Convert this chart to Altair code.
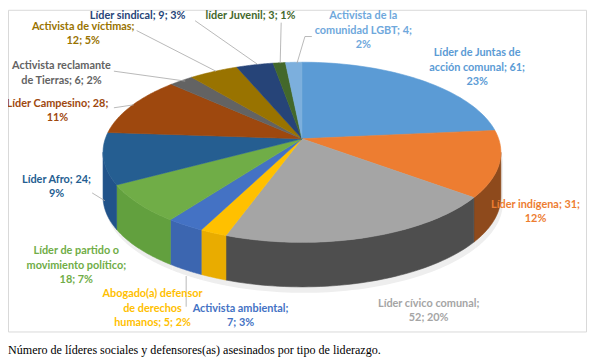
import math
import altair as alt
import pandas as pd

# ---------------- data ----------------
categories = [
    "Líder de Juntas de acción comunal", "Líder indígena", "Líder cívico comunal",
    "Abogado(a) defensor de derechos humanos", "Activista ambiental",
    "Líder de partido o movimiento político", "Líder Afro", "Líder Campesino",
    "Activista reclamante de Tierras", "Activista de víctimas", "Líder sindical",
    "líder Juvenil", "Activista de la comunidad LGBT",
]
values = [61, 31, 52, 5, 7, 18, 24, 28, 6, 12, 9, 3, 4]
percents = [23, 12, 20, 2, 3, 7, 9, 11, 2, 5, 3, 1, 2]

# label text broken into lines as in the original
label_lines = [
    ["Líder de Juntas de", "acción comunal; 61;", "23%"],
    ["Líder indígena; 31;", "12%"],
    ["Líder cívico comunal;", "52; 20%"],
    ["Abogado(a) defensor", "de derechos", "humanos; 5; 2%"],
    ["Activista ambiental;", "7; 3%"],
    ["Líder de partido o", "movimiento político;", "18; 7%"],
    ["Líder Afro; 24;", "9%"],
    ["Líder Campesino; 28;", "11%"],
    ["Activista reclamante", "de Tierras; 6; 2%"],
    ["Activista de víctimas;", "12; 5%"],
    ["Líder sindical; 9; 3%"],
    ["líder Juvenil; 3; 1%"],
    ["Activista de la", "comunidad LGBT; 4;", "2%"],
]
caption = "Número de líderes sociales y defensores(as) asesinados por tipo de liderazgo."

# ---------------- styles / layout ----------------
colors = ["#5B9BD5", "#ED7D31", "#A5A5A5", "#FFC000", "#4472C4", "#70AD47",
          "#255E91", "#9E480E", "#636363", "#997300", "#264478", "#43682B", "#7CAFDD"]
side_colors = ["#3F73A3", "#8E4A1C", "#4E4E4E", "#E9AC00", "#3C66B0", "#62A03E",
               "#21538A", "#7A380B", "#4D4D4D", "#7A5C00", "#1F3862", "#365522", "#6699C6"]
text_colors = ["#5B9BD5", "#ED7D31", "#A5A5A5", "#FFC000", "#4472C4", "#70AD47",
               "#255E91", "#9E480E", "#636363", "#997300", "#264478", "#43682B", "#6FA8DC"]
label_pos = [(482, 52), (541, 205), (433, 305), (154, 295.5), (243, 310), (77, 252),
             (57, 180), (58, 103), (62, 65), (84, 25), (139, 14.5), (253, 14.5), (367, 14.5)]
LINE_H = 14.5
leaders = [  # (x, y, x2, y2) page px
    (197, 19, 260, 63), (284, 21, 283, 62), (315, 35, 308, 35), (308, 35, 300, 62),
    (138, 29, 218, 70), (115, 70, 187, 80), (115, 107, 135, 104), (93, 193, 106, 201),
    (188, 277, 188, 308),
]

W, H = 586, 352
CX, CY0 = 305.0, 138.3          # projected pie centre
A, B, K = 198.7, 88.95, 0.15    # perspective ellipse params
DEPTH = 45.0
SHADOW = 6.0
N = 48
PHIW = math.acos(-K)

xs = alt.Scale(domain=[8, 8 + W], nice=False, zero=False)
ys = alt.Scale(domain=[8, 8 + H], nice=False, zero=False, reverse=True)

df = pd.DataFrame({"idx": list(range(len(categories))), "cat": categories,
                   "value": values, "col": colors, "scol": side_colors})

base = (
    alt.Chart(df)
    .transform_joinaggregate(total="sum(value)")
    .transform_window(cum="sum(value)", sort=[alt.SortField("idx", order="ascending")], frame=[None, 0])
    .transform_calculate(a0="(datum.cum - datum.value) / datum.total * 2 * PI",
                         a1="datum.cum / datum.total * 2 * PI")
)

def proj_x(phi):
    return f"{CX} + {A} * sin({phi}) / (1 + {K} * cos({phi}))"

def proj_y(phi):
    return f"{CY0} - {B} * cos({phi}) / (1 + {K} * cos({phi}))"

top = (
    base.transform_calculate(seq=f"sequence(0, {N + 3})")
    .transform_flatten(["seq"], as_=["t"])
    .transform_calculate(phi=f"datum.a0 + clamp(datum.t - 1, 0, {N}) / {N} * (datum.a1 - datum.a0)",
                         apex=f"datum.t == 0 || datum.t == {N + 2}")
    .transform_calculate(px=f"datum.apex ? {CX} : " + proj_x("datum.phi"),
                         py=f"datum.apex ? {CY0} : " + proj_y("datum.phi"))
    .mark_line(filled=True, strokeWidth=0.6)
    .encode(
        x=alt.X("px:Q", scale=xs, axis=None),
        y=alt.Y("py:Q", scale=ys, axis=None),
        order="t:Q",
        detail="cat:N",
        color=alt.Color("col:N", scale=None),
        stroke=alt.Stroke("col:N", scale=None),
    )
)

side_base = (
    base.transform_calculate(lo=f"max(datum.a0, {PHIW})", hi=f"min(datum.a1, 2 * PI - {PHIW})")
    .transform_filter("datum.lo < datum.hi")
    .transform_calculate(seq=f"sequence(0, {N + 1})")
    .transform_flatten(["seq"], as_=["t"])
    .transform_calculate(phi=f"datum.lo + datum.t / {N} * (datum.hi - datum.lo)")
    .transform_calculate(px=proj_x("datum.phi"), py=proj_y("datum.phi"))
    .transform_calculate(py2=f"datum.py + {DEPTH}", py3=f"datum.py + {DEPTH + SHADOW}",
                         pxs=f"datum.px + 2")
)

shadow = side_base.mark_area(orient="vertical", color="#EEEEEE").encode(
    x=alt.X("pxs:Q", scale=xs, axis=None),
    y=alt.Y("py:Q", scale=ys, axis=None),
    y2="py3:Q",
    detail="cat:N",
)

side = side_base.mark_area(orient="vertical", strokeWidth=0.6).encode(
    x=alt.X("px:Q", scale=xs, axis=None),
    y=alt.Y("py:Q", scale=ys, axis=None),
    y2="py2:Q",
    detail="cat:N",
    color=alt.Color("scol:N", scale=None),
    stroke=alt.Stroke("scol:N", scale=None),
)

# labels
rows = []
for i, lines in enumerate(label_lines):
    x0, y0 = label_pos[i]
    for j, line in enumerate(lines):
        rows.append({"x": x0, "y": y0 + j * LINE_H, "text": line, "tcol": text_colors[i]})
labels = alt.Chart(pd.DataFrame(rows)).mark_text(
    font="Lato", fontWeight="bold", fontSize=11, align="center", baseline="middle"
).encode(
    x=alt.X("x:Q", scale=xs, axis=None), y=alt.Y("y:Q", scale=ys, axis=None),
    text="text:N", color=alt.Color("tcol:N", scale=None),
)

ldf = pd.DataFrame(leaders, columns=["x", "y", "x2", "y2"])
lead = alt.Chart(ldf).mark_rule(color="#A6A6A6", strokeWidth=0.8).encode(
    x=alt.X("x:Q", scale=xs, axis=None), y=alt.Y("y:Q", scale=ys, axis=None), x2="x2:Q", y2="y2:Q"
)

border = alt.Chart(pd.DataFrame({"x": [8.5], "x2": [592.5], "y": [8.5], "y2": [333.5]})).mark_rect(
    fill=None, stroke="#D9D9D9", strokeWidth=1
).encode(x=alt.X("x:Q", scale=xs, axis=None), x2="x2:Q", y=alt.Y("y:Q", scale=ys, axis=None), y2="y2:Q")

cap = alt.Chart(pd.DataFrame({"x": [8], "y": [352], "text": [caption]})).mark_text(
    font="Liberation Serif", fontSize=12.2, align="left", baseline="middle", color="black"
).encode(x=alt.X("x:Q", scale=xs, axis=None), y=alt.Y("y:Q", scale=ys, axis=None), text="text:N")

chart = (
    alt.layer(border, shadow, side, top, lead, labels, cap)
    .properties(width=W, height=H, background="white", padding=0,
                autosize=alt.AutoSizeParams(type="none"))
    .configure_view(stroke=None)
)
chart.save("out.html", embed_options={"renderer": "svg", "actions": False})
